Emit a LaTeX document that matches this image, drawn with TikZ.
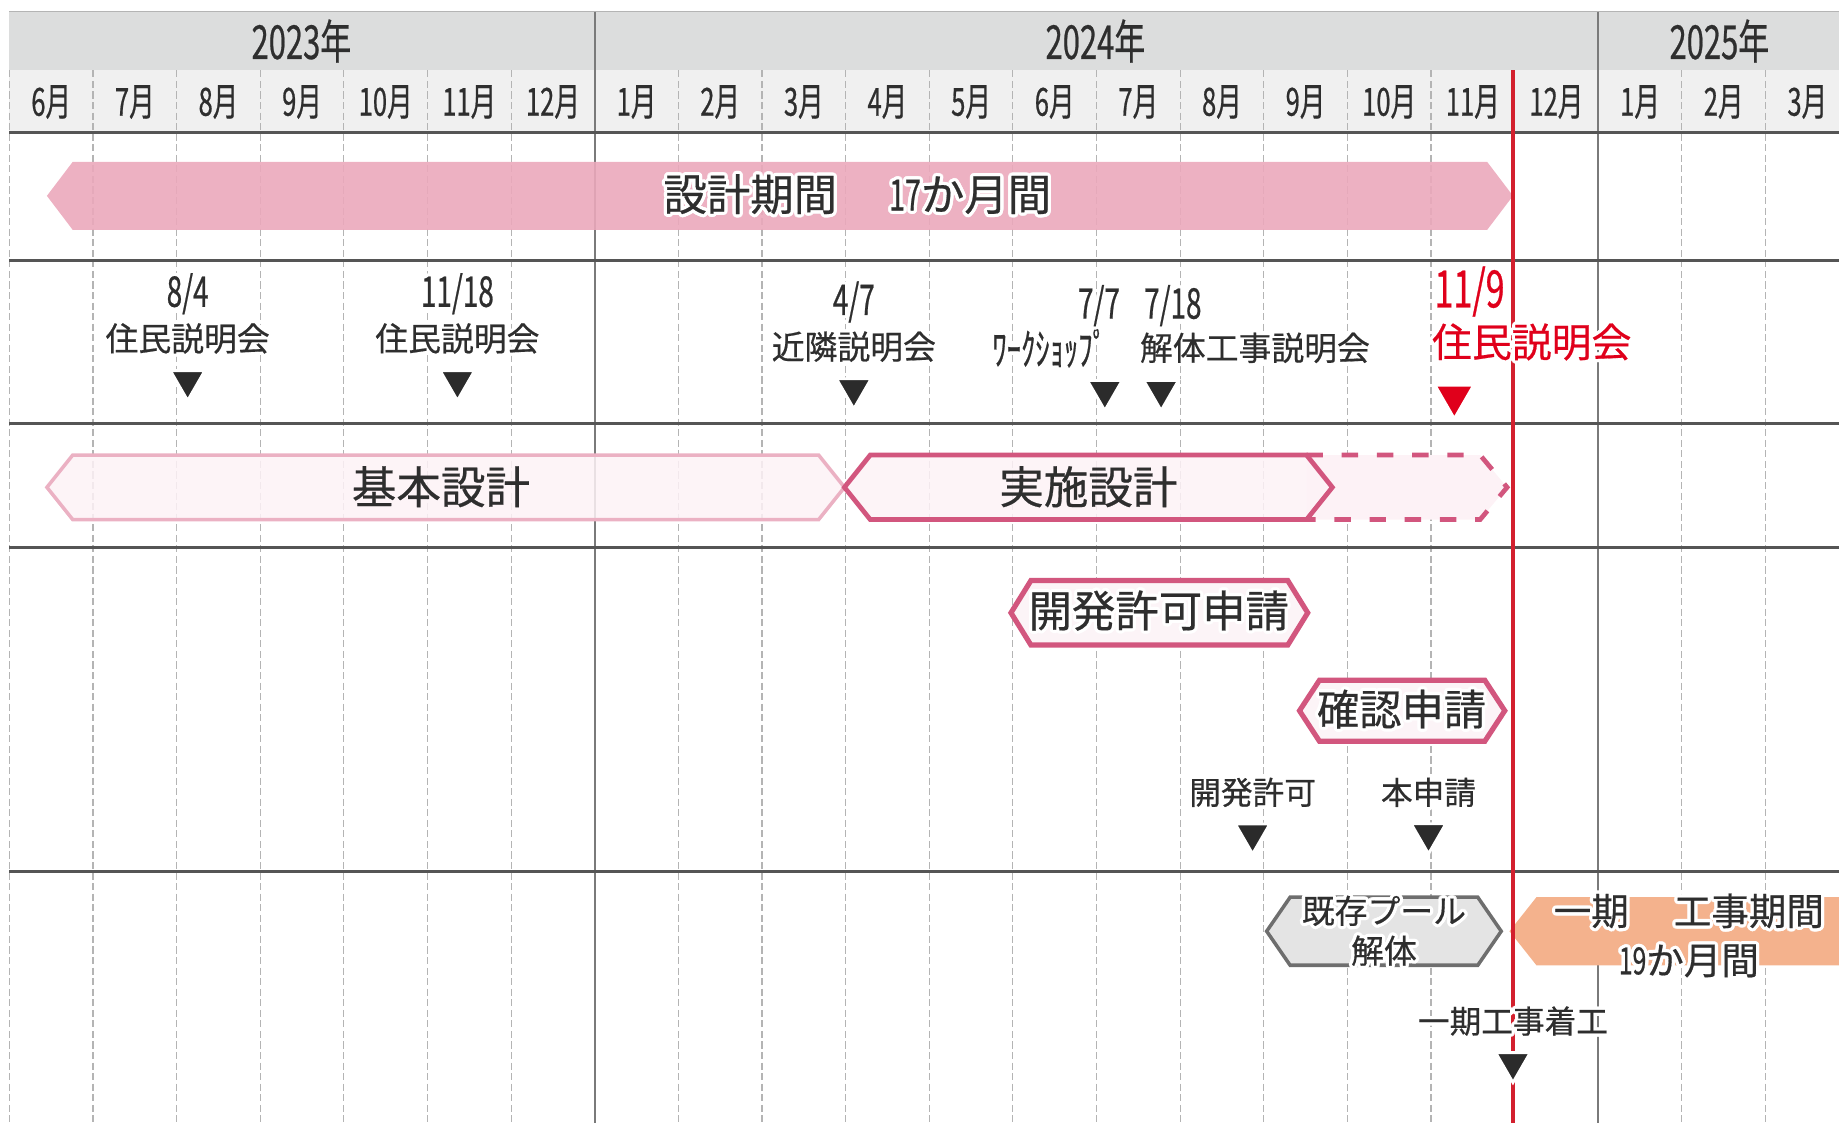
\documentclass[tikz,border=0pt]{standalone}
\usepackage{fontspec}
\setmainfont[FakeBold=0.5]{Noto Sans CJK JP}
\newfontfamily\narrowfont[FakeStretch=0.66,FakeBold=0.5]{Noto Sans CJK JP}
\usepackage{contour}
\contourlength{1.4pt}
\usetikzlibrary{positioning,shapes.geometric}

\definecolor{yearfill}{HTML}{DCDDDD}
\definecolor{monthfill}{HTML}{F0F0F0}
\definecolor{gridgray}{HTML}{B4B4B4}
\definecolor{yeargray}{HTML}{7A7A7A}
\definecolor{rowgray}{HTML}{555555}
\definecolor{textgray}{HTML}{2E2E2E}
\definecolor{trigray}{HTML}{2B2B2B}
\definecolor{designpink}{HTML}{EBA8BB}
\definecolor{palepink}{HTML}{FDF2F6}
\definecolor{softpink}{HTML}{EBB1C3}
\definecolor{deeppink}{HTML}{D2567E}
\definecolor{applyfill}{HTML}{FCF4F7}
\definecolor{demogray}{HTML}{E4E4E4}
\definecolor{demoedge}{HTML}{6E6E6E}
\definecolor{buildorange}{HTML}{F4B28D}
\definecolor{todayred}{HTML}{D3202E}
\definecolor{notered}{HTML}{E0001B}

\newcommand{\halo}[1]{\contour{white}{#1}}
% style, left tip, right tip, top, bottom, point depth
\newcommand{\hexbar}[6]{\path[#1] (#2,{(#4+#5)/2}) -- ({#2+#6},#4) -- ({#3-#6},#4) -- (#3,{(#4+#5)/2}) -- ({#3-#6},#5) -- ({#2+#6},#5) -- cycle;}

\begin{document}
\begin{tikzpicture}[x=0.5pt, y=-0.5pt,
		gridline/.style={draw=gridgray, dash pattern=on 3pt off 1.5pt, line width=0.5pt},
		yearline/.style={draw=yeargray, line width=0.8pt},
		rowline/.style={draw=rowgray, line width=1.5pt},
		todayline/.style={draw=todayred, line width=1.4pt},
		yearlabel/.style={text=textgray, inner sep=0pt, font=\narrowfont\fontsize{20}{22}\selectfont},
		monthlabel/.style={text=textgray, inner sep=0pt, font=\narrowfont\fontsize{16.5}{18}\selectfont},
		designbar/.style={fill=designpink, fill opacity=0.9},
		basicbar/.style={fill=palepink, fill opacity=0.85, draw=softpink, line width=1.5pt},
		detailbar/.style={fill=palepink, fill opacity=0.85, draw=deeppink, line width=2pt},
		dashbar/.style={draw=deeppink, line width=2pt, dash pattern=on 7pt off 8pt},
		applybox/.style={fill=applyfill, draw=deeppink, line width=2.2pt},
		demobar/.style={fill=demogray, draw=demoedge, line width=1.5pt},
		buildbar/.style={fill=buildorange},
		bartext/.style={text=textgray, inner sep=0pt, font=\fontsize{19}{21}\selectfont},
		eventlabel/.style={text=textgray, inner sep=0pt, font=\fontsize{14}{16}\selectfont},
		datelabel/.style={text=textgray, inner sep=0pt, font=\narrowfont\fontsize{18}{20}\selectfont},
		evtri/.style={regular polygon, regular polygon sides=3, shape border rotate=180,
				fill=trigray, draw=white, line width=1.2pt, inner sep=0pt, minimum size=17pt},
		redtri/.style={evtri, fill=notered, minimum size=19pt}]
	\useasboundingbox (0,0) rectangle (1568,957.5);
	\clip (0,0) rectangle (1568,957.5);

	% header
	\fill[yearfill] (8,10) rectangle (1568,60);
	\fill[monthfill] (8,60) rectangle (1568,113);
	\draw[gridgray, line width=0.5pt] (8,10) -- (1568,10);

	% month grid
	\foreach \i in {0,...,21}
		\draw[gridline] ({8+71.3*\i},60) -- ({8+71.3*\i},957.5);
	\foreach \i in {7,19}
		\draw[yearline] ({8+71.3*\i},10) -- ({8+71.3*\i},957.5);
	\foreach \y in {113,222,361,467,743}
		\draw[rowline] (8,\y) -- (1568,\y);

	\node (y2023) [yearlabel] at (257,35) {2023年};
	\node (y2024) [yearlabel] at (934,35) {2024年};
	\node (y2025) [yearlabel] at (1466,35) {2025年};
	\foreach \mon [count=\i from 0] in {6,7,8,9,10,11,12,1,2,3,4,5,6,7,8,9,10,11,12,1,2,3}
		\node (m\i) [monthlabel] at ({8+71.3*(\i+0.5)},87) {\mon{}月};

	% bars
	\hexbar{designbar}{40}{1290}{138}{196}{22}
	\hexbar{basicbar}{40}{720}{388}{443}{22}
	\fill[palepink] (1114,388) -- (1262,388) -- (1285,415.5) -- (1262,443) -- (1114,443) -- cycle;
	\draw[dashbar] (1114,388) -- (1262,388) -- (1285,415.5) -- (1262,443) -- (1114,443);
	\hexbar{detailbar}{720}{1136}{388}{443}{22}
	\hexbar{applybox}{862}{1115}{495}{550}{17}
	\hexbar{applybox}{1108}{1283}{580}{632}{17}
	\hexbar{demobar}{1080}{1280}{765}{823}{20}
	\hexbar{buildbar}{1287}{1700}{765}{823}{23}

	\draw[todayline] (1290,60) -- (1290,957.5);

	\node (designtxt) [bartext, font=\fontsize{18.5}{20}\selectfont] at (731,167) {\halo{設計期間\hspace{1.2em}{\narrowfont 17}か月間}};
	\node (basictxt) [bartext] at (376,415) {基本設計};
	\node (detailtxt) [bartext] at (928,415) {実施設計};
	\node (devapply) [bartext, font=\fontsize{18.5}{20}\selectfont] at (988,522) {\halo{開発許可申請}};
	\node (confirm) [bartext, font=\fontsize{18}{20}\selectfont] at (1195,606) {\halo{確認申請}};
	\node (demotxt) [bartext, align=center, font=\fontsize{14}{17}\selectfont] at (1180,795) {\halo{既存プール}\\\halo{解体}};
	\node (buildtxt) [bartext, align=center, font=\fontsize{16}{21}\selectfont] at (1440,799)
		{\halo{一期\hspace{1.2em}工事期間}\\\halo{{\narrowfont 19}か月間}};

	% events
	\node (n84) [eventlabel] at (160,290) {\halo{住民説明会}};
	\node (d84) [datelabel, above=2pt of n84] {\halo{8/4}};
	\node (t84) [evtri, below=5pt of n84] {};

	\node (n1118) [eventlabel] at (390,290) {\halo{住民説明会}};
	\node (d1118) [datelabel, above=2pt of n1118] {\halo{11/18}};
	\node (t1118) [evtri, below=5pt of n1118] {};

	\node (n47) [eventlabel] at (728,297) {\halo{近隣説明会}};
	\node (d47) [datelabel, above=2pt of n47] {\halo{4/7}};
	\node (t47) [evtri, below=5pt of n47] {};

	\node (n77) [eventlabel, font=\narrowfont\fontsize{18.5}{20}\selectfont] at (895,298) {\halo{ﾜｰｸｼｮｯﾌﾟ}};
	\node (d77) [datelabel] at (937,262) {\halo{7/7}};
	\node (t77) [evtri] at (942,333) {};

	\node (n718) [eventlabel] at (1070,298) {\halo{解体工事説明会}};
	\node (d718) [datelabel] at (1000,262) {\halo{7/18}};
	\node (t718) [evtri] at (990,333) {};

	\node (n119) [eventlabel, text=notered, font=\fontsize{17}{19}\selectfont] at (1306,293) {\halo{住民説明会}};
	\node (d119) [datelabel, text=notered, font=\narrowfont\fontsize{22}{24}\selectfont] at (1253,250) {\halo{11/9}};
	\node (t119) [redtri] at (1240,338) {};

	\node (devok) [eventlabel, font=\fontsize{13.5}{15}\selectfont] at (1068,677) {\halo{開発許可}};
	\node (tdevok) [evtri, below=5pt of devok] {};
	\node (mainapp) [eventlabel, font=\fontsize{13.5}{15}\selectfont] at (1218,677) {\halo{本申請}};
	\node (tmainapp) [evtri, below=5pt of mainapp] {};
	\node (start) [eventlabel, font=\fontsize{13.5}{15}\selectfont] at (1290,872) {\halo{一期工事着工}};
	\node (tstart) [evtri, below=5pt of start] {};
\end{tikzpicture}
\end{document}
